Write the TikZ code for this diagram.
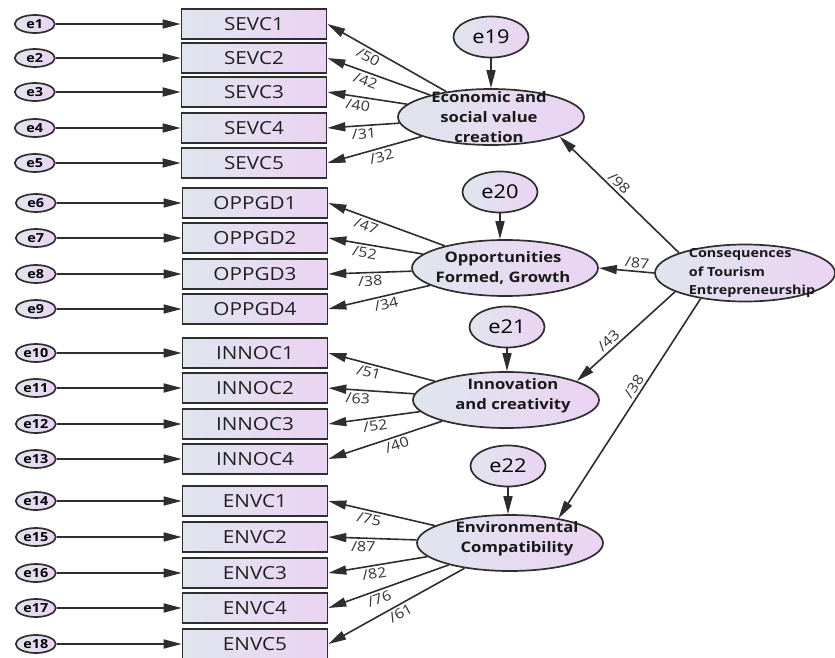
\documentclass[tikz,border=0pt]{standalone}
\usepackage{fontspec}
\setmainfont{Open Sans}[FakeStretch=1.15]
\usetikzlibrary{positioning,arrows.meta,shapes.geometric}

\definecolor{fillL}{HTML}{E0E5EE}
\definecolor{fillR}{HTML}{EBD3F3}
\definecolor{linegray}{HTML}{2E2E2E}

\begin{document}
\begin{tikzpicture}[x=1pt, y=-1pt,
    gradfill/.style={left color=fillL, right color=fillR, draw=linegray, line width=1.7pt},
    item/.style={gradfill, rectangle, minimum width=145pt, minimum height=30pt, inner sep=0pt, text=black!88, font=\fontsize{18}{18}\selectfont},
    err/.style={gradfill, ellipse, minimum width=40pt, minimum height=18pt, inner sep=0.5pt, font=\bfseries\fontsize{12.5}{13}\selectfont},
    dist/.style={gradfill, ellipse, minimum width=75pt, minimum height=41pt, inner sep=0pt, font=\fontsize{19}{19}\selectfont},
    factor/.style={gradfill, ellipse, minimum width=186pt, minimum height=56pt, inner sep=0pt},
    ftext/.style={font=\bfseries\fontsize{14.5}{20}\selectfont, align=center, text=black!90},
    arr/.style={draw=linegray, line width=1.6pt, -{Triangle[length=18pt, width=9pt]}},
    lbl/.style={sloped, below, inner sep=2.5pt, font=\fontsize{14}{14}\selectfont, text=black!80}
  ]
  \useasboundingbox (0,0) rectangle (835,658);

  % observed items
  \foreach \n/\y in {1/24, 2/58, 3/92, 4/128, 5/163}
    \node[item] (sevc\n) at (254,\y) {SEVC\n};
  \foreach \n/\y in {1/203, 2/238, 3/274, 4/309}
    \node[item] (oppgd\n) at (255,\y) {OPPGD\n};
  \foreach \n/\y in {1/353, 2/388, 3/424, 4/459}
    \node[item] (innoc\n) at (255,\y) {INNOC\n};
  \foreach \n/\y in {1/501, 2/537, 3/573, 4/608, 5/644}
    \node[item] (envc\n) at (255,\y) {ENVC\n};

  % measurement errors
  \foreach \b/\i in {sevc1/1, sevc2/2, sevc3/3, sevc4/4, sevc5/5, oppgd1/6, oppgd2/7, oppgd3/8, oppgd4/9,
      innoc1/10, innoc2/11, innoc3/12, innoc4/13, envc1/14, envc2/15, envc3/16, envc4/17, envc5/18} {
    \node[err, left=125pt of \b] (e\i) {e\i};
    \draw[arr] (e\i) -- (\b);
  }

  % first-order factors
  \node[factor, label={[ftext, xshift=-2pt]center:{Economic and\\social value\\creation}}] (econ) at (491,117) {};
  \node[factor, label={[ftext, xshift=-2pt]center:{Opportunities\\Formed, Growth}}] (opp) at (505,268) {};
  \node[factor, label={[ftext, xshift=7pt, yshift=4pt]center:{Innovation\\and creativity}}] (innov) at (506,400) {};
  \node[factor, label={[ftext, xshift=7pt, yshift=4pt]center:{Environmental\\Compatibility}}] (env) at (510,543) {};

  % second-order factor
  \node[factor, minimum width=180pt, minimum height=57pt,
        label={[font=\bfseries\fontsize{12.5}{18.5}\selectfont, align=left, text=black!90, xshift=7pt]center:{Consequences\\of Tourism\\Entrepreneurship}}] (conseq) at (745,273) {};

  % disturbances
  \node[dist] (e19) at (491,37) {e19};
  \node[dist] (e20) at (500,192) {e20};
  \node[dist] (e21) at (507,327) {e21};
  \node[dist] (e22) at (508,466) {e22};
  \foreach \d/\f in {e19/econ, e20/opp, e21/innov, e22/env}
    \draw[arr] (\d) -- (\d |- \f.north);

  % loadings
  \foreach \b/\v/\p in {sevc1/50/.62, sevc2/42/.6, sevc3/40/.6, sevc4/31/.5, sevc5/32/.45}
    \draw[arr] (econ) -- node[lbl, pos=\p] {/\v} (\b.east);
  \foreach \b/\v/\p in {oppgd1/47/.65, oppgd2/52/.6, oppgd3/38/.5, oppgd4/34/.45}
    \draw[arr] (opp) -- node[lbl, pos=\p] {/\v} (\b.east);
  \foreach \b/\v/\p in {innoc1/51/.6, innoc2/63/.65, innoc3/52/.5, innoc4/40/.42}
    \draw[arr] (innov) -- node[lbl, pos=\p] {/\v} (\b.east);
  \foreach \b/\v/\p in {envc1/75/.6, envc2/87/.6, envc3/82/.55, envc4/76/.6, envc5/61/.5}
    \draw[arr] (env) -- node[lbl, pos=\p] {/\v} (\b.east);

  % structural paths
  \draw[arr] (conseq.163) -- node[lbl, above, pos=.55] {/98} (econ.-16);
  \draw[arr] (conseq.west) -- node[lbl, above, pos=.32] {/87} (opp.east);
  \draw[arr] (conseq.195) -- node[lbl, above, pos=.62] {/43} (innov.15);
  \draw[arr] (conseq.210) -- node[lbl, above, pos=.42] {/38} (env.27);
\end{tikzpicture}
\end{document}
